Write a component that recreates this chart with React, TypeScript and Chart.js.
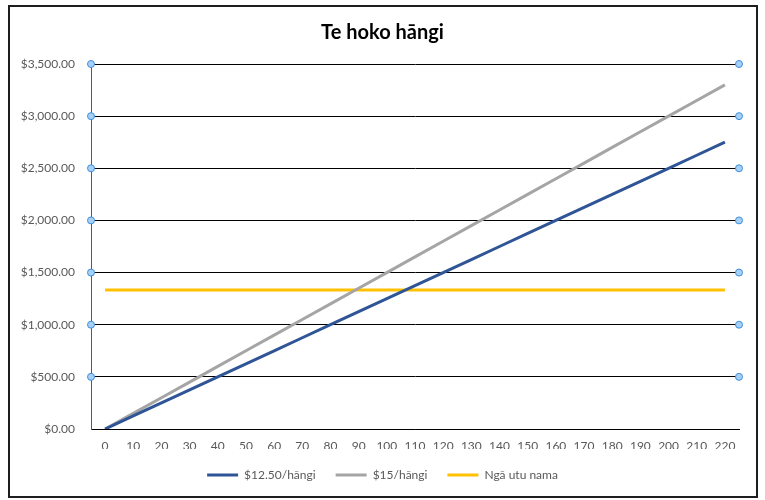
import React, { useEffect, useRef } from "react";
import { Chart, registerables } from "chart.js";

Chart.register(...registerables);

const categories = ["0","10","20","30","40","50","60","70","80","90","100","110","120","130","140","150","160","170","180","190","200","210","220"];
const price1250 = [0,125,250,375,500,625,750,875,1000,1125,1250,1375,1500,1625,1750,1875,2000,2125,2250,2375,2500,2625,2750];
const price15 = [0,150,300,450,600,750,900,1050,1200,1350,1500,1650,1800,1950,2100,2250,2400,2550,2700,2850,3000,3150,3300];
const debts = [1333,1333,1333,1333,1333,1333,1333,1333,1333,1333,1333,1333,1333,1333,1333,1333,1333,1333,1333,1333,1333,1333,1333];
const seriesNames = ["$12.50/hāngi", "$15/hāngi", "Ngā utu nama"];
const handleValues = [500, 1000, 1500, 2000, 2500, 3000, 3500];
const title = "Te hoko hāngi";

const FONT = "Lato";

const fmt = (v: number) =>
  "$" + v.toLocaleString("en-US", { minimumFractionDigits: 2, maximumFractionDigits: 2 });

const handlesPlugin = {
  id: "handles",
  afterDraw(chart: any) {
    const { ctx, chartArea } = chart;
    const y = chart.scales.y;
    ctx.save();
    for (const v of handleValues) {
      const py = y.getPixelForValue(v);
      for (const px of [chartArea.left, chartArea.right]) {
        ctx.beginPath();
        ctx.arc(px, py, 3.5, 0, Math.PI * 2);
        ctx.fillStyle = "#a8d0f5";
        ctx.fill();
        ctx.lineWidth = 1;
        ctx.strokeStyle = "#3d8fdc";
        ctx.stroke();
      }
    }
    ctx.restore();
  },
};

export default function App() {
  const ref = useRef<HTMLCanvasElement | null>(null);
  useEffect(() => {
    if (!ref.current) return;
    const chart = new Chart(ref.current, {
      type: "line",
      data: {
        labels: categories,
        datasets: [
          { label: seriesNames[0], data: price1250, borderColor: "#2f5597", backgroundColor: "#2f5597", borderWidth: 3, pointRadius: 0, tension: 0 },
          { label: seriesNames[1], data: price15, borderColor: "#a5a5a5", backgroundColor: "#a5a5a5", borderWidth: 3, pointRadius: 0, tension: 0 },
          { label: seriesNames[2], data: debts, borderColor: "#ffc000", backgroundColor: "#ffc000", borderWidth: 3, pointRadius: 0, tension: 0 },
        ],
      },
      options: {
        animation: false,
        responsive: true,
        maintainAspectRatio: false,
        layout: { padding: { left: 0, right: 0, top: 0, bottom: 9 } },
        plugins: {
          title: {
            display: true,
            text: title,
            color: "#000",
            font: { family: FONT, size: 20, weight: "bold" },
            padding: { top: 21, bottom: 19 },
          },
          legend: {
            position: "bottom",
            labels: {
              color: "#595959",
              font: { family: FONT, size: 12 },
              boxWidth: 31,
              boxHeight: 3,
              padding: 20,
              generateLabels: (c: any) =>
                (Chart.defaults.plugins.legend.labels as any).generateLabels(c).map((l: any) => ({
                  ...l,
                  fillStyle: l.strokeStyle,
                  lineWidth: 0,
                })),
            },
          },
          tooltip: { enabled: false },
        },
        scales: {
          x: {
            offset: true,
            afterFit: (s: any) => { s.height = 20; },
            grid: { display: false, drawTicks: false },
            border: { display: true, color: "#000", width: 1 },
            ticks: { color: "#595959", font: { family: FONT, size: 12 }, padding: 10, maxRotation: 0, autoSkip: false },
          },
          y: {
            min: 0,
            max: 3500,
            afterFit: (s: any) => { s.width = 91; },
            grid: { color: "#000", lineWidth: 1, drawTicks: false },
            border: { display: true, color: "#595959", width: 1 },
            ticks: { stepSize: 500, color: "#595959", font: { family: FONT, size: 12 }, padding: 16, callback: (v: any) => fmt(Number(v)) },
          },
          yRight: {
            position: "right",
            min: 0,
            max: 1,
            afterFit: (s: any) => { s.width = 26; },
            grid: { display: false, drawTicks: false },
            border: { display: false },
            ticks: { display: false },
          },
        },
      },
      plugins: [handlesPlugin],
    });
    return () => chart.destroy();
  }, []);

  return (
    <div style={{ position: "absolute", left: 0, top: 0, width: 765, height: 500, background: "#fff" }}>
      <canvas ref={ref} />
      <div
        style={{
          position: "absolute",
          left: 8,
          top: 5,
          width: 750,
          height: 493,
          boxSizing: "border-box",
          border: "2px solid #1e1e1e",
          pointerEvents: "none",
        }}
      />
    </div>
  );
}
